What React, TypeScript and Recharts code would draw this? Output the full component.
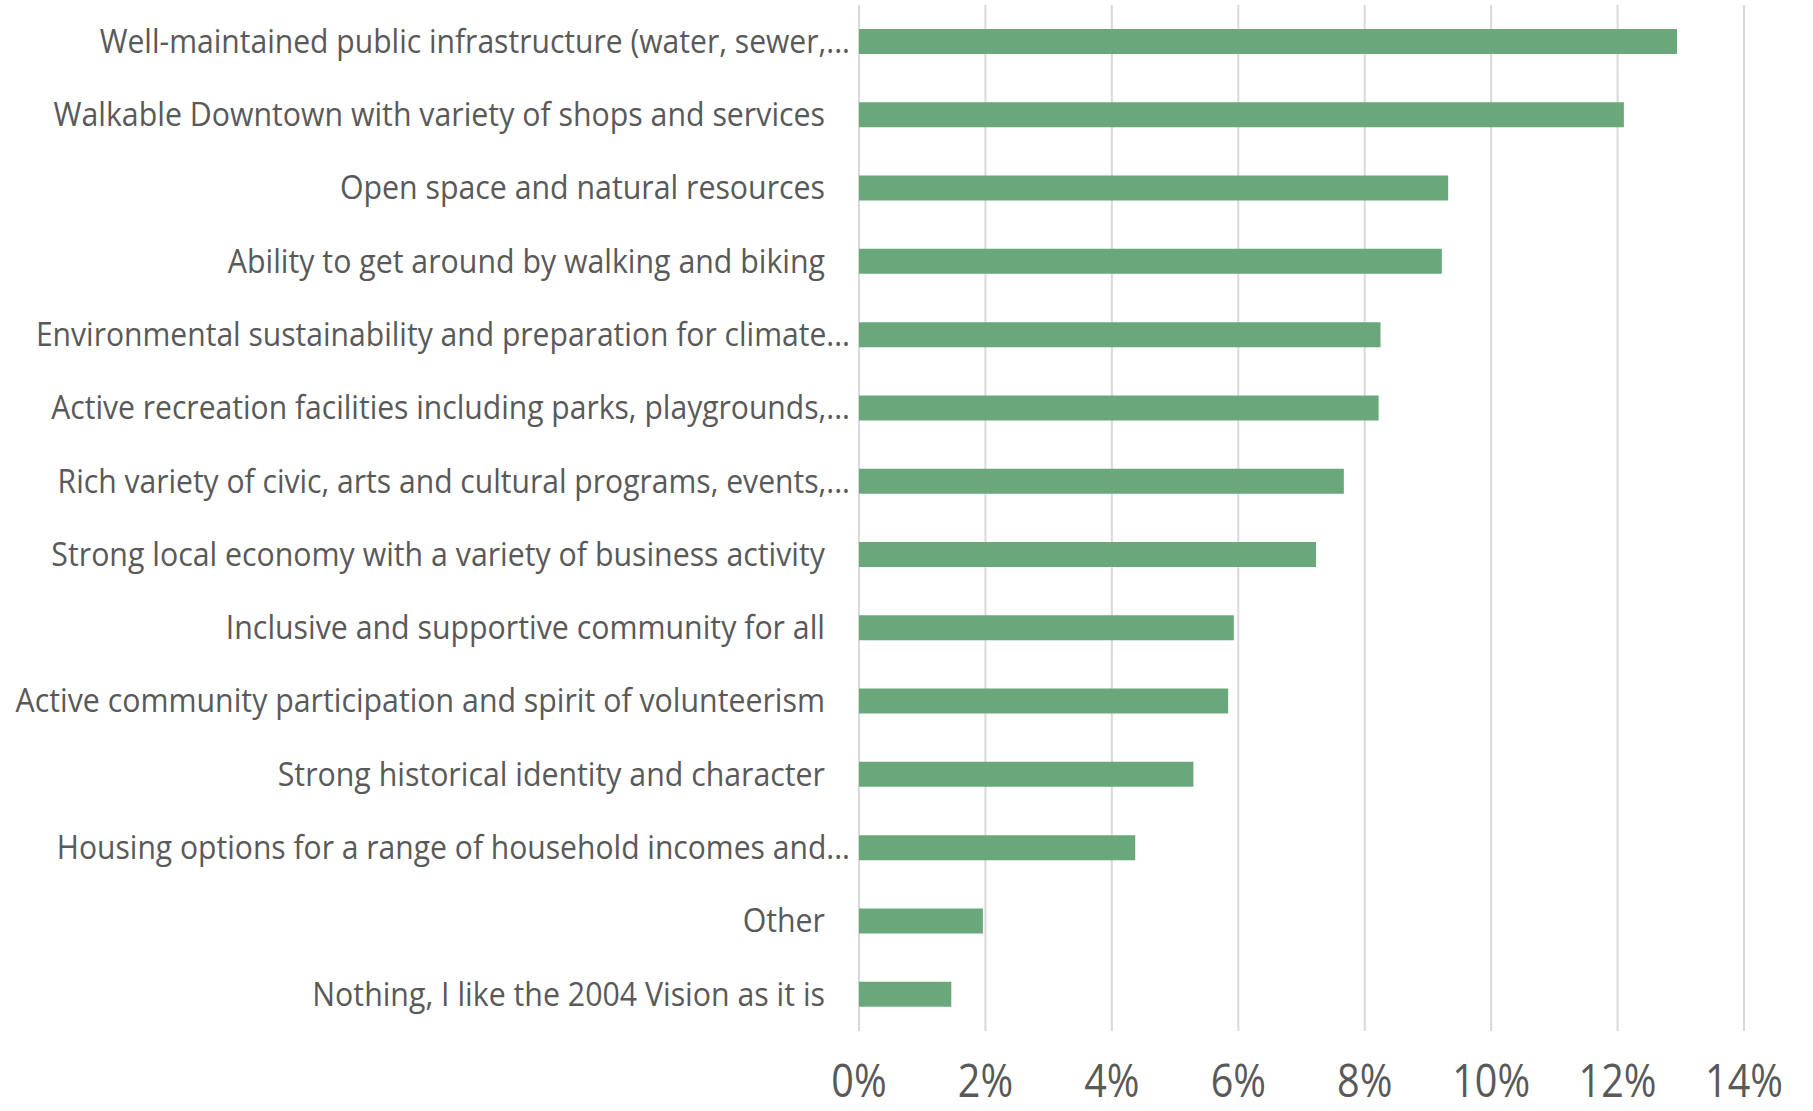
import React from 'react';
import { BarChart, Bar, XAxis, YAxis, CartesianGrid } from 'recharts';

const categories = [
  'Well-maintained public infrastructure (water, sewer,...',
  'Walkable Downtown with variety of shops and services',
  'Open space and natural resources',
  'Ability to get around by walking and biking',
  'Environmental sustainability and preparation for climate...',
  'Active recreation facilities including parks, playgrounds,...',
  'Rich variety of civic, arts and cultural programs, events,...',
  'Strong local economy with a variety of business activity',
  'Inclusive and supportive community for all',
  'Active community participation and spirit of volunteerism',
  'Strong historical identity and character',
  'Housing options for a range of household incomes and...',
  'Other',
  'Nothing, I like the 2004 Vision as it is',
];

const shares = [
  0.1294, 0.121, 0.0932, 0.0922, 0.0825, 0.0822, 0.0767, 0.0723, 0.0593, 0.0584,
  0.0529, 0.0437, 0.0196, 0.0146,
];

const xTicks = [0, 0.02, 0.04, 0.06, 0.08, 0.1, 0.12, 0.14];

const data = categories.map((name, i) => ({ name, value: shares[i] }));

const TEXT = '#595959';
const FONT = '"Open Sans", "Noto Sans", sans-serif';

const CategoryTick = (props: any) => {
  const { y, payload } = props;
  const label: string = payload.value;
  const truncated = label.endsWith('...');
  const endX = truncated ? 850 : 825;
  return (
    <g transform={`translate(${endX},${y}) scale(${truncated ? 0.94 : 0.947},1)`}>
      <text
        x={0}
        y={0}
        dy="0.35em"
        textAnchor="end"
        fill={TEXT}
        fontSize={32}
        fontFamily={FONT}
      >
        {label}
      </text>
    </g>
  );
};

const ValueTick = (props: any) => {
  const { x, payload } = props;
  return (
    <g transform={`translate(${x},${1097}) scale(0.86,1)`}>
      <text x={0} y={0} textAnchor="middle" fill={TEXT} fontSize={46} fontFamily={FONT}>
        {`${Math.round(payload.value * 100)}%`}
      </text>
    </g>
  );
};

export default function App() {
  return (
    <div style={{ position: 'absolute', left: 0, top: 0, width: 1813, height: 1111, background: '#fff' }}>
      <BarChart
        width={1813}
        height={1111}
        data={data}
        layout="vertical"
        margin={{ top: 5, right: 69, bottom: 0, left: 0 }}
        barCategoryGap={0}
      >
        <CartesianGrid horizontal={false} vertical stroke="#d9d9d9" strokeWidth={2} />
        <XAxis
          type="number"
          domain={[0, 0.14]}
          ticks={xTicks}
          axisLine={false}
          tickLine={false}
          height={80}
          tick={<ValueTick />}
          interval={0}
        />
        <YAxis
          type="category"
          dataKey="name"
          width={859}
          axisLine={false}
          tickLine={false}
          tick={<CategoryTick />}
          interval={0}
        />
        <Bar dataKey="value" fill="#6aa87b" barSize={25} isAnimationActive={false} />
      </BarChart>
    </div>
  );
}
